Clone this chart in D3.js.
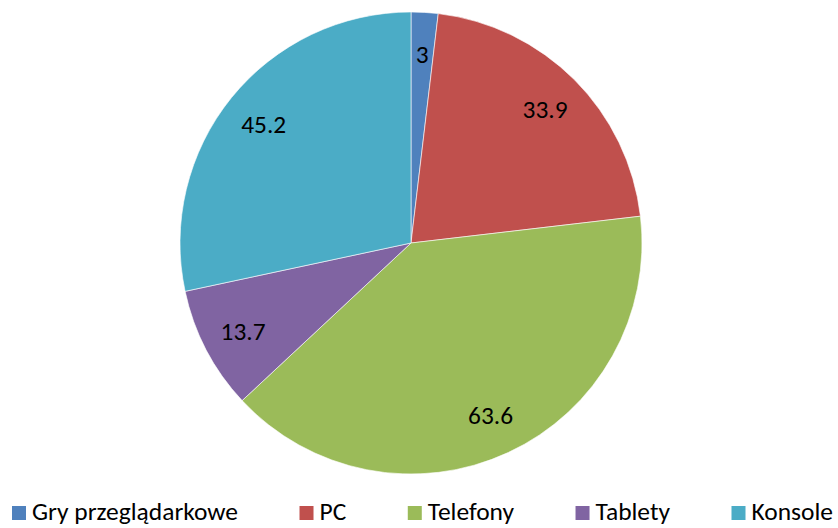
<!DOCTYPE html>
<html><head><meta charset="utf-8">
<script src="https://cdn.jsdelivr.net/npm/d3@7"></script>
<style>body{margin:0;background:#fff}svg{display:block}text{font-family:Carlito,Lato,"Open Sans",sans-serif}</style>
</head><body>
<svg id="c" width="838" height="528"></svg>
<script>
const categories = ["Gry przeglądarkowe", "PC", "Telefony", "Tablety", "Konsole"];
const values = [3, 33.9, 63.6, 13.7, 45.2];
const labels = ["3", "33.9", "63.6", "13.7", "45.2"];
const colors = ["#4F81BD", "#C0504D", "#9BBB59", "#8064A2", "#4BACC6"];

const W = 838, H = 528;
const cx = 411, cy = 243, R = 231;
const svg = d3.select("#c");
const data = categories.map((c, i) => ({cat: c, value: values[i], label: labels[i], color: colors[i]}));

// fit font size to reference text widths
function fitSize(str, target) {
  const t = svg.append("text").attr("font-size", 20).text(str);
  const w = t.node().getComputedTextLength();
  t.remove();
  return 20 * target / w;
}
const legendSize = fitSize(categories[0], 206);
const labelSize = fitSize("33.9", 45);

const pie = d3.pie().value(d => d.value).sort(null);
const arcs = pie(data);
const arc = d3.arc().innerRadius(0).outerRadius(R);
const labelArc = d3.arc().innerRadius(R * 0.82).outerRadius(R * 0.82);

const g = svg.append("g").attr("transform", `translate(${cx},${cy})`);
g.selectAll("path").data(arcs).join("path")
  .attr("d", arc).attr("fill", d => d.data.color)
  .attr("stroke", "#fff").attr("stroke-width", 0.6);
g.selectAll("text").data(arcs).join("text")
  .attr("transform", d => `translate(${labelArc.centroid(d)})`)
  .attr("text-anchor", "middle").attr("dy", "0.35em")
  .attr("font-size", labelSize).attr("fill", "#000")
  .text(d => d.data.label);

// legend
const leg = svg.append("g");
const items = leg.selectAll("g").data(data).join("g");
items.append("rect").attr("width", 14).attr("height", 14).attr("y", 506).attr("fill", d => d.color);
items.append("text").attr("x", 20).attr("y", 520).attr("font-size", legendSize).attr("fill", "#000").text(d => d.cat);
const widths = [];
items.each(function(){ widths.push(20 + d3.select(this).select("text").node().getComputedTextLength()); });
const x0 = 12, x1 = 833;
const gap = (x1 - x0 - d3.sum(widths)) / (widths.length - 1);
let x = x0;
items.each(function(d, i){ d3.select(this).attr("transform", `translate(${x},0)`); x += widths[i] + gap; });
</script>
</body></html>
